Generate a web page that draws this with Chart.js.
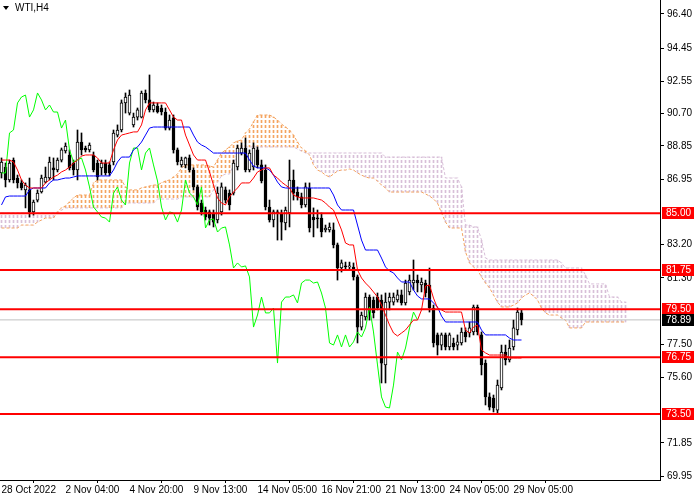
<!DOCTYPE html>
<html><head><meta charset="utf-8">
<script src="https://cdn.jsdelivr.net/npm/chart.js@4.4.0/dist/chart.umd.min.js"></script>
<style>
html,body{margin:0;padding:0;background:#fff;}
#wrap{position:relative;width:700px;height:500px;overflow:hidden;}
#title{position:absolute;left:3px;top:2px;font:10px "Liberation Sans",Arial,sans-serif;color:#000;line-height:12px;white-space:nowrap;}
#title .tri{display:inline-block;width:0;height:0;border-left:3px solid transparent;border-right:3px solid transparent;border-top:4px solid #000;margin-right:6px;vertical-align:middle;}
</style></head><body>
<div id="wrap"><canvas id="c" width="700" height="500"></canvas><div id="title"><span class="tri"></span>WTI,H4</div></div>
<script>
// ---- data ----
const timeLabels = ["28 Oct 2022","2 Nov 04:00","4 Nov 20:00","9 Nov 13:00","14 Nov 05:00","16 Nov 21:00","21 Nov 13:00","24 Nov 05:00","29 Nov 05:00"];
const timeLabelIdx = [0,16,32,48,64,80,96,112,128];
const priceTicks = [96.40,94.45,92.55,90.70,88.85,86.95,83.20,81.30,77.50,75.60,71.85,69.95];
const levels = [85.00,81.75,79.50,76.75,73.50];
const lastPrice = 78.89;
const chikouShift = 26;

const opens = [87.30,87.64,86.90,88.04,87.01,86.73,86.33,86.33,85.07,85.75,
86.21,86.78,87.01,87.59,87.47,88.04,88.56,88.33,87.87,87.47,
89.07,88.73,88.62,88.33,87.87,87.59,87.87,87.76,87.93,89.47,
89.76,91.31,90.73,90.05,90.50,90.50,91.88,91.48,90.91,91.13,
91.02,90.79,89.87,90.45,88.62,87.76,87.76,88.16,87.47,86.50,
85.58,85.18,85.07,85.01,84.61,85.07,86.33,86.15,86.15,87.64,
88.44,88.73,87.47,87.64,88.62,87.76,87.47,85.35,84.61,85.07,
85.01,84.44,85.01,86.90,86.21,85.93,85.47,86.44,84.78,84.72,
84.72,84.04,84.04,84.04,83.18,81.86,81.98,81.92,81.92,81.35,
78.48,79.06,80.20,80.03,80.20,80.03,76.31,79.91,79.91,80.03,
80.32,79.86,80.49,81.00,81.17,80.89,81.00,80.89,79.57,78.03,
77.45,78.03,77.34,77.57,77.45,77.57,78.20,78.14,78.20,79.63,
78.03,76.42,74.48,74.42,73.73,74.99,77.05,76.60,77.34,78.31,
79.29];
const highs = [88.16,87.87,88.04,88.16,87.18,86.90,86.73,87.01,85.75,86.33,
87.18,87.64,88.21,88.16,88.16,88.73,89.02,88.62,88.04,89.76,
89.59,88.84,89.02,88.50,88.04,88.04,88.04,87.93,89.76,90.05,
91.48,91.88,92.05,90.73,91.02,91.99,92.05,92.91,91.36,91.31,
91.19,91.02,90.62,90.62,88.73,88.21,88.21,88.33,87.59,86.61,
85.75,85.35,85.18,85.18,86.50,86.73,86.50,86.33,88.04,88.90,
89.02,89.30,88.62,89.02,88.79,88.04,87.76,85.75,85.18,85.18,
85.18,85.35,88.04,87.47,86.50,86.15,86.73,86.73,85.30,85.18,
85.01,84.32,84.44,84.44,83.29,82.32,82.20,82.20,82.15,81.46,
79.34,80.43,80.32,80.20,80.43,80.32,80.43,80.43,80.43,80.60,
80.60,81.17,81.46,82.32,81.46,81.29,81.17,81.86,79.74,78.14,
78.14,78.14,78.14,77.85,78.03,78.43,78.43,78.77,79.74,79.74,
78.20,76.60,74.71,74.59,75.45,77.45,77.45,77.74,78.88,79.57,
79.46];
const lows = [87.01,86.50,86.78,86.73,86.44,86.33,85.30,84.78,84.89,85.64,
86.15,86.73,86.90,86.90,87.36,87.93,88.44,87.47,87.18,86.90,
88.33,88.50,88.50,87.36,86.90,87.18,87.18,87.13,87.76,89.36,
89.65,90.73,90.62,89.93,90.33,90.45,91.31,90.79,90.79,90.73,
90.62,89.76,89.76,88.44,87.76,87.64,87.59,87.36,86.33,85.18,
84.89,84.61,84.32,84.21,84.44,84.89,85.58,85.18,86.04,87.47,
88.33,87.36,87.36,87.47,87.59,86.73,85.18,84.49,84.21,83.46,
83.46,84.04,84.21,85.75,85.75,85.30,85.35,83.92,83.64,84.15,
83.64,83.92,83.92,83.01,81.17,81.63,81.75,81.75,81.17,77.57,
78.31,78.88,78.88,79.00,79.46,75.28,75.28,79.46,79.74,79.91,
79.74,79.74,80.32,80.60,80.49,80.49,80.20,79.34,77.34,76.88,
77.17,77.17,77.17,77.17,77.17,77.45,77.63,77.91,78.03,78.03,
75.74,74.02,73.73,73.62,73.56,74.88,76.31,76.48,77.17,78.03,
78.60];
const closes = [87.93,86.90,87.87,86.90,86.73,86.44,86.61,85.07,85.64,86.15,
87.01,87.07,87.93,87.47,88.04,88.62,88.84,87.59,87.47,89.07,
88.62,88.62,88.90,87.47,87.07,87.87,87.30,87.30,89.59,89.76,
91.31,91.65,91.76,90.50,90.91,91.88,91.48,90.91,91.19,90.79,
90.79,89.87,90.33,88.62,87.93,88.04,88.16,87.47,86.50,85.35,
85.07,84.78,84.72,84.49,86.15,86.50,85.75,85.47,87.87,88.73,
88.73,87.47,88.44,88.73,87.76,86.84,85.35,84.61,85.07,85.01,
84.49,85.18,86.90,86.15,85.93,85.47,86.50,84.15,84.61,84.67,
83.92,84.15,84.21,83.18,81.86,82.15,81.92,81.98,81.35,78.48,
79.17,80.20,79.29,79.29,79.57,76.42,79.91,80.20,80.20,80.32,
79.86,81.00,81.17,81.17,81.00,81.06,80.43,79.57,77.57,77.45,
78.03,77.34,78.03,77.34,77.63,78.20,77.91,78.43,79.63,78.20,
76.31,74.48,73.90,73.85,75.16,77.05,76.60,77.28,78.43,79.34,
78.89];
const tenkan = [88.04,88.04,88.04,87.93,87.47,86.90,86.61,86.44,86.44,86.44,
86.44,86.73,86.90,87.07,87.18,87.36,87.47,87.64,87.87,88.04,
88.27,88.33,88.33,88.33,88.16,87.87,87.87,87.87,88.62,89.19,
89.47,89.53,89.59,89.65,89.65,90.05,90.91,91.31,91.31,91.31,
91.31,91.31,90.91,90.50,90.33,90.33,89.47,88.90,88.33,88.04,
88.04,88.04,87.36,86.61,85.87,85.58,85.47,85.93,86.21,86.44,
86.73,86.73,86.73,87.01,87.36,87.47,87.59,87.59,87.18,87.01,
86.78,86.61,86.44,86.04,85.93,85.87,85.87,85.87,85.87,85.81,
85.75,85.58,85.35,85.18,84.61,84.04,83.29,83.18,83.18,81.75,
81.29,81.00,80.77,80.49,80.20,79.74,79.17,78.60,78.14,77.97,
78.14,78.31,78.60,78.88,78.88,79.46,80.83,80.89,80.14,79.57,
79.46,79.34,79.34,79.34,79.34,79.34,78.31,78.14,78.48,78.60,
77.17,77.00,76.88,76.88,76.88,76.88,76.88,76.71,76.71,76.71,
76.71];
const kijun = [85.47,85.93,85.98,85.98,85.98,85.98,85.98,86.33,86.44,86.44,
86.44,86.44,86.73,86.90,86.90,86.96,87.01,87.01,87.07,87.13,
87.13,87.13,87.13,87.13,87.13,87.13,87.13,87.13,87.47,87.93,
88.21,88.21,88.21,88.62,88.79,89.07,89.47,89.87,89.93,89.93,
89.93,89.93,89.93,89.93,89.93,89.93,89.93,89.93,89.47,89.07,
88.90,88.79,88.62,88.44,88.44,88.44,88.44,88.44,88.44,88.44,
88.44,88.44,88.04,87.70,87.59,87.59,87.59,87.47,87.18,86.78,
86.50,86.44,86.44,86.44,86.44,86.44,86.44,86.44,86.44,86.44,
86.44,86.44,86.44,86.04,85.47,85.18,85.18,85.18,85.18,84.32,
83.46,82.89,82.89,82.89,82.89,82.43,81.92,81.69,81.58,81.29,
81.06,81.06,81.06,80.60,80.26,80.09,80.09,80.09,79.86,79.63,
79.11,78.77,78.77,78.77,78.77,78.77,78.77,78.77,78.77,78.77,
78.31,78.03,78.03,78.03,78.03,78.03,78.03,77.85,77.74,77.74,
77.74];
const spanA = [84.15,84.15,84.15,84.15,84.15,84.32,84.32,84.32,84.32,84.49,
84.61,84.72,84.72,84.72,85.07,85.30,85.41,85.64,85.87,86.04,
86.04,86.04,86.04,86.73,86.90,86.90,86.90,86.90,86.90,86.90,
86.90,86.50,86.33,86.33,86.33,86.44,86.50,86.55,86.61,86.61,
86.73,86.84,86.90,87.07,87.24,87.59,87.76,87.76,87.76,87.76,
87.76,87.76,87.70,87.64,88.04,88.44,88.62,88.79,89.02,89.13,
89.19,89.59,89.82,90.22,90.62,90.62,90.62,90.62,90.50,90.33,
90.10,89.93,89.76,89.47,89.07,88.73,88.56,88.33,87.76,87.47,
87.36,87.18,87.07,87.24,87.41,87.47,87.47,87.53,87.47,87.30,
87.18,87.07,87.01,87.01,86.84,86.61,86.44,86.21,86.21,86.21,
86.21,86.21,86.21,86.21,86.21,86.21,86.10,85.98,85.81,85.58,
85.01,84.49,84.15,84.15,84.15,84.15,82.78,82.15,81.92,81.75,
81.35,81.00,80.72,80.32,79.91,79.63,79.63,79.63,79.74,79.86,
80.14,80.32,80.43,80.26,80.03,79.57,79.29,79.17,79.17,79.17,
79.00,78.88,78.43,78.43,78.43,78.43,78.77,78.77,78.77,78.77,
78.77,78.77,78.77,78.77,78.77,78.77,78.77];
const spanB = [85.01,85.01,85.01,85.01,85.01,85.01,85.01,85.01,85.01,85.01,
85.01,85.01,85.01,85.01,85.01,85.18,85.30,85.30,85.30,85.30,
85.30,85.30,85.30,85.30,85.30,85.30,85.30,85.30,85.30,85.30,
85.30,85.58,85.58,85.58,85.58,85.58,85.58,85.58,85.58,85.81,
85.81,85.81,85.81,85.81,85.81,85.93,85.93,85.93,85.93,85.93,
85.93,85.93,85.93,86.33,86.78,87.13,87.24,87.24,87.76,88.50,
88.79,88.79,88.79,88.79,88.79,88.79,88.79,88.79,88.79,88.79,
88.79,88.79,88.79,88.79,88.67,88.56,88.44,88.44,88.44,88.44,
88.44,88.44,88.44,88.44,88.44,88.44,88.44,88.44,88.44,88.44,
88.44,88.44,88.44,88.44,88.44,88.44,88.21,88.21,88.21,88.21,
88.21,88.21,88.21,88.21,88.21,88.21,88.21,88.21,88.21,88.21,
88.21,87.01,87.01,87.01,87.01,86.50,84.32,84.32,84.21,84.21,
83.46,82.43,82.32,82.32,82.32,82.32,82.32,82.32,82.32,82.32,
82.32,82.32,82.32,82.32,82.32,82.32,82.32,82.32,82.32,82.32,
82.15,81.86,81.86,81.86,81.86,81.86,81.46,80.95,80.95,80.95,
80.95,80.95,80.20,80.20,80.20,79.91,79.91];

// ---- layout constants ----
const X_MIN = -0.375, X_MAX = 164.625;
const Y_MIN = 69.726, Y_MAX = 97.201;
const FONT = '"Liberation Sans", Arial, sans-serif';

Chart.defaults.font.family = FONT;
Chart.defaults.font.size = 10;
Chart.defaults.color = '#000';

function hatch(color) {
  const c = document.createElement('canvas');
  c.width = 1; c.height = 5;
  const g = c.getContext('2d');
  g.fillStyle = color; g.fillRect(0, 0, 1, 3);
  return g.createPattern(c, 'repeat');
}
const orangeHatch = hatch('#f4a460');
const pinkHatch = hatch('#d8bfd8');

const xy = (arr, shift) => arr.map((v, i) => ({x: i - (shift || 0), y: v}));
const lineDs = (data, color, order, extra) => Object.assign({
  type: 'line', data, borderColor: color, borderWidth: 1, pointRadius: 0,
  tension: 0, fill: false, order
}, extra || {});

const datasets = [];
datasets.push({
  type: 'bar', label: 'cloud', order: 30, grouped: false, barThickness: 1,
  data: spanA.map((a, i) => ({x: i, y: [a, spanB[i]]})),
  backgroundColor: (ctx) => {
    const r = ctx.raw; if (!r) return pinkHatch;
    return r.y[0] >= r.y[1] ? orangeHatch : pinkHatch;
  },
  borderWidth: 0
});
datasets.push(lineDs(xy(spanA), '#f4a460', 29, {borderDash: [3, 2]}));
datasets.push(lineDs(xy(spanB), '#d8bfd8', 28, {borderDash: [3, 2]}));
datasets.push(lineDs([{x: X_MIN, y: lastPrice}, {x: X_MAX, y: lastPrice}], '#c0c0c0', 27));
datasets.push({
  type: 'bar', label: 'wicks', order: 20, grouped: false, barThickness: 1,
  data: highs.map((h, i) => ({x: i, y: [lows[i], h]})),
  backgroundColor: '#000', borderWidth: 0
});
datasets.push({
  type: 'bar', label: 'bodies', order: 19, grouped: false, barThickness: 3, minBarLength: 1,
  data: opens.map((o, i) => ({x: i, y: [o, closes[i]]})),
  backgroundColor: (ctx) => {
    const i = ctx.dataIndex;
    return closes[i] >= opens[i] ? '#ffffff' : '#000000';
  },
  borderColor: '#000', borderWidth: 1, borderSkipped: false
});
datasets.push(lineDs(xy(closes.slice(chikouShift)), '#00ff00', 10));
datasets.push(lineDs(xy(kijun), '#0000ff', 9));
datasets.push(lineDs(xy(tenkan), '#ff0000', 8));
levels.forEach((v, k) => {
  datasets.push(lineDs([{x: X_MIN, y: v}, {x: X_MAX, y: v}], '#ff0000', 1 + k * 0.01, {borderWidth: 2}));
});

const zeroPad = (s) => { s.paddingTop = 0; s.paddingBottom = 0; s.paddingLeft = 0; s.paddingRight = 0; };

const axisLabels = {
  id: 'axisLabels',
  afterDraw(chart) {
    const ctx = chart.ctx, ys = chart.scales.y, x0 = chart.chartArea.right + 2;
    ctx.save();
    ctx.font = '10px ' + FONT;
    ctx.textBaseline = 'middle';
    ctx.textAlign = 'left';
    const box = (v, bg, fg) => {
      const y = Math.round(ys.getPixelForValue(v));
      ctx.fillStyle = bg; ctx.fillRect(x0, y - 6, 32, 12);
      ctx.fillStyle = fg; ctx.fillText(v.toFixed(2), x0 + 4, y + 0.5);
    };
    levels.forEach(v => box(v, '#ff0000', '#ffffff'));
    box(lastPrice, '#000000', '#ffffff');
    ctx.restore();
  }
};

new Chart(document.getElementById('c'), {
  type: 'bar',
  data: {datasets},
  plugins: [axisLabels],
  options: {
    responsive: false, animation: false, events: [],
    layout: {padding: 0},
    plugins: {legend: {display: false}, tooltip: {enabled: false}, title: {display: false}},
    scales: {
      x: {
        type: 'linear', position: 'bottom', min: X_MIN, max: X_MAX, offset: false,
        afterBuildTicks: (s) => { s.ticks = timeLabelIdx.map(v => ({value: v})); },
        afterFit: (s) => { s.height = 20; zeroPad(s); },
        ticks: {
          autoSkip: false, maxRotation: 0, minRotation: 0, align: 'start', padding: 1,
          color: '#000', font: {size: 10, family: FONT},
          callback: (v) => { const k = timeLabelIdx.indexOf(v); return k >= 0 ? timeLabels[k] : ''; }
        },
        grid: {display: true, drawOnChartArea: false, drawTicks: true, tickLength: 3, color: '#000'},
        border: {display: true, color: '#000', width: 1}
      },
      y: {
        type: 'linear', position: 'right', min: Y_MIN, max: Y_MAX,
        afterBuildTicks: (s) => { s.ticks = priceTicks.map(v => ({value: v})); },
        afterFit: (s) => { s.width = 40; zeroPad(s); },
        ticks: {
          autoSkip: false, padding: 3, color: '#000', font: {size: 10, family: FONT},
          callback: (v) => Number(v).toFixed(2)
        },
        grid: {display: true, drawOnChartArea: false, drawTicks: true, tickLength: 4, color: '#000'},
        border: {display: true, color: '#000', width: 1}
      }
    }
  }
});
</script>
</body></html>
